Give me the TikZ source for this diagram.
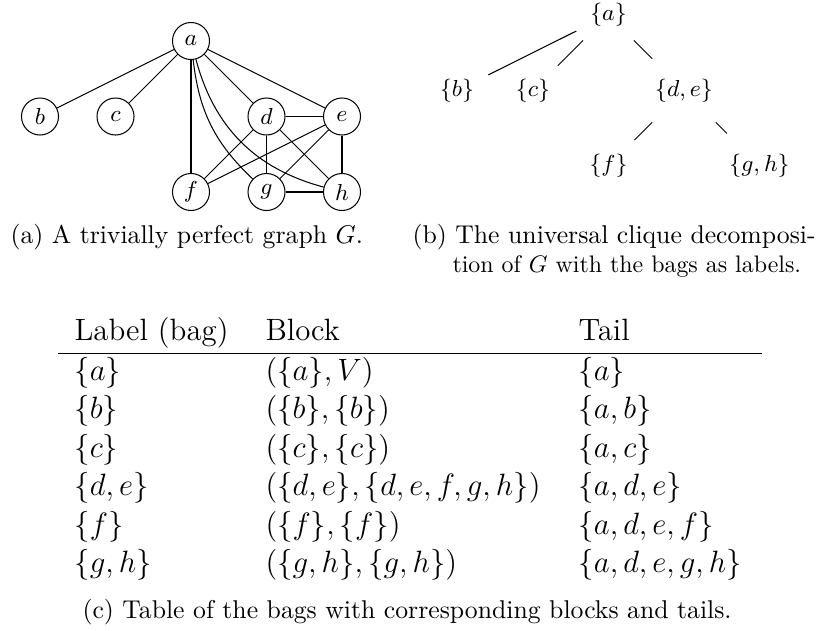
\documentclass[tikz,border=0pt]{standalone}
\usepackage{graphicx}
\tikzset{
  vtx/.style={circle, draw, minimum size=14.4pt, inner sep=0pt, font=\fontsize{9}{10.8}\selectfont},
  bag/.style={circle, inner sep=3.9pt, font=\fontsize{9}{10.8}\selectfont},
  capt/.style={anchor=base west, inner sep=0pt, font=\fontsize{10}{12}\selectfont},
  tabtext/.style={anchor=base west, inner sep=0pt, font=\fontsize{12}{14.5}\selectfont},
}
\begin{document}
\begin{tikzpicture}[x=0.389pt,y=0.389pt]
\useasboundingbox (0,0) rectangle (822,-630);
% graph G
\node[vtx] (a) at (191,-41) {$a$};
\node[vtx] (b) at (40,-116.5) {$b$};
\node[vtx] (c) at (115.5,-116.5) {$c$};
\node[vtx] (d) at (266.5,-116.5) {$d$};
\node[vtx] (e) at (342,-116.5) {$e$};
\node[vtx] (f) at (191,-192) {$f$};
\node[vtx] (g) at (266.5,-192) {$g$};
\node[vtx] (h) at (342,-192) {$h$};
\draw (a) -- (b);
\draw (a) -- (c);
\draw (a) -- (f);
\draw (a) -- (d);
\draw (a) -- (e);
\draw (a) to[bend right=20] (g);
\draw (a) to[bend right=30] (h);
\draw (d) -- (e);
\draw (d) -- (g);
\draw (d) -- (h);
\draw (d) -- (f);
\draw (e) -- (f);
\draw (e) -- (g);
\draw (e) -- (h);
\draw (g) -- (h);
% tree
\node[bag] (ta) at (608.5,-15) {$\{a\}$};
\node[bag] (tb) at (457,-90.5) {$\{b\}$};
\node[bag] (tc) at (533,-90.5) {$\{c\}$};
\node[bag] (tde) at (684,-90.5) {$\{d,e\}$};
\node[bag] (tf) at (608.5,-166) {$\{f\}$};
\node[bag] (tgh) at (759.5,-166) {$\{g,h\}$};
\draw (ta) -- (tb);
\draw (ta) -- (tc);
\draw (ta) -- (tde);
\draw (tde) -- (tf);
\draw (tde) -- (tgh);
% captions
\node[capt] (capa) at (10,-243) {(a) A trivially perfect graph $G$.};
\node[capt] (capb1) at (412,-243) {(b) The universal clique decomposi-};
\node[capt] (capb2) at (452,-272) {\scalebox{0.93}{tion of $G$ with the bags as labels.}};
% table
\node[tabtext] (h1) at (74,-340) {Label (bag)};
\node[tabtext] (h2) at (265,-340) {Block};
\node[tabtext] (h3) at (578,-340) {Tail};
\coordinate (rl) at (58,-353.3);
\coordinate (rr) at (762,-353.3);
\draw[line width=0.5pt] (rl) -- (rr);
\node[tabtext] (r1a) at (74,-380) {$\{a\}$};
\node[tabtext] (r1b) at (265,-380) {$(\{a\},V)$};
\node[tabtext] (r1c) at (578,-380) {$\{a\}$};
\node[tabtext] (r2a) at (74,-418.5) {$\{b\}$};
\node[tabtext] (r2b) at (265,-418.5) {$(\{b\},\{b\})$};
\node[tabtext] (r2c) at (578,-418.5) {$\{a,b\}$};
\node[tabtext] (r3a) at (74,-457) {$\{c\}$};
\node[tabtext] (r3b) at (265,-457) {$(\{c\},\{c\})$};
\node[tabtext] (r3c) at (578,-457) {$\{a,c\}$};
\node[tabtext] (r4a) at (74,-495.5) {$\{d,e\}$};
\node[tabtext] (r4b) at (265,-495.5) {$(\{d,e\},\{d,e,f,g,h\})$};
\node[tabtext] (r4c) at (578,-495.5) {$\{a,d,e\}$};
\node[tabtext] (r5a) at (74,-534) {$\{f\}$};
\node[tabtext] (r5b) at (265,-534) {$(\{f\},\{f\})$};
\node[tabtext] (r5c) at (578,-534) {$\{a,d,e,f\}$};
\node[tabtext] (r6a) at (74,-572.5) {$\{g,h\}$};
\node[tabtext] (r6b) at (265,-572.5) {$(\{g,h\},\{g,h\})$};
\node[tabtext] (r6c) at (578,-572.5) {$\{a,d,e,g,h\}$};
\node[capt] (capc) at (82,-618) {(c) Table of the bags with corresponding blocks and tails.};
\end{tikzpicture}
\end{document}
